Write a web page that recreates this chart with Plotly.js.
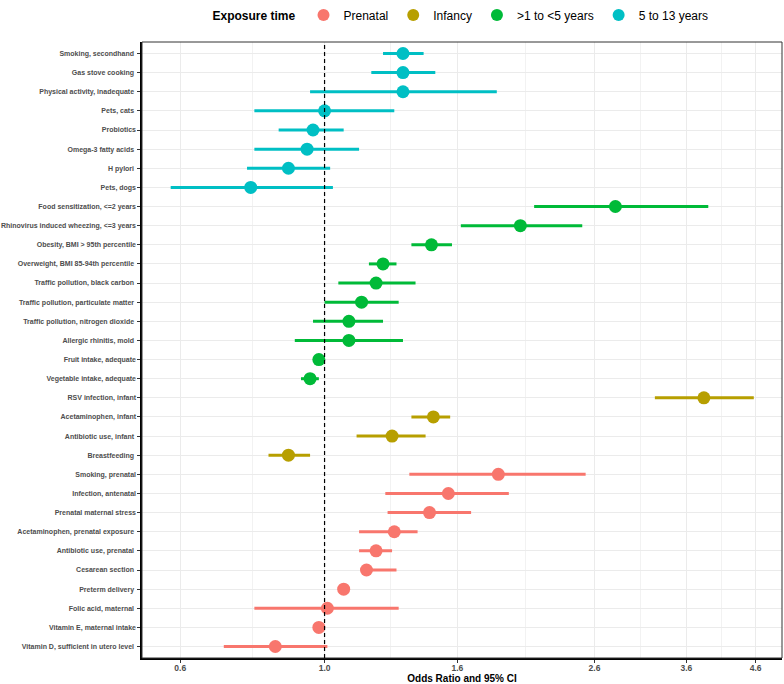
<!DOCTYPE html>
<html>
<head>
<meta charset="utf-8">
<script src="https://cdn.plot.ly/plotly-3.0.1.min.js"></script>
<style>
  body { margin: 0; background: #fff; }
  #chart { width: 784px; height: 684px; }
</style>
</head>
<body>
<div id="chart"></div>
<script>
// risk factors, top to bottom
const factors = [
  "Smoking, secondhand\u00a0", "Gas stove cooking\u00a0", "Physical activity, inadequate\u00a0",
  "Pets, cats\u00a0", "Probiotics", "Omega-3 fatty acids\u00a0", "H pylori\u00a0", "Pets, dogs",
  "Food sensitization, <=2 years", "Rhinovirus induced wheezing, <=3 years",
  "Obesity, BMI > 95th percentile", "Overweight, BMI 85-94th percentile\u00a0",
  "Traffic pollution, black carbon\u00a0", "Traffic pollution, particulate matter\u00a0",
  "Traffic pollution, nitrogen dioxide\u00a0", "Allergic rhinitis, mold\u00a0",
  "Fruit intake, adequate", "Vegetable intake, adequate",
  "RSV infection, infant", "Acetaminophen, infant", "Antibiotic use, infant\u00a0", "Breastfeeding\u00a0",
  "Smoking, prenatal", "Infection, antenatal", "Prenatal maternal stress",
  "Acetaminophen, prenatal exposure\u00a0", "Antibiotic use, prenatal\u00a0", "Cesarean section\u00a0",
  "Preterm delivery\u00a0", "Folic acid, maternal\u00a0", "Vitamin E, maternal intake",
  "Vitamin D, sufficient in utero level\u00a0"
];

const exposure = [
  "5 to 13 years", "5 to 13 years", "5 to 13 years", "5 to 13 years",
  "5 to 13 years", "5 to 13 years", "5 to 13 years", "5 to 13 years",
  ">1 to <5 years", ">1 to <5 years", ">1 to <5 years", ">1 to <5 years", ">1 to <5 years",
  ">1 to <5 years", ">1 to <5 years", ">1 to <5 years", ">1 to <5 years", ">1 to <5 years",
  "Infancy", "Infancy", "Infancy", "Infancy",
  "Prenatal", "Prenatal", "Prenatal", "Prenatal", "Prenatal",
  "Prenatal", "Prenatal", "Prenatal", "Prenatal", "Prenatal"
];

const oddsRatio = [
  1.32, 1.32, 1.32, 1.00, 0.96, 0.94, 0.88, 0.77,
  2.80, 2.00, 1.46, 1.23, 1.20, 1.14, 1.09, 1.09, 0.98, 0.95,
  3.83, 1.47, 1.27, 0.88,
  1.85, 1.55, 1.45, 1.28, 1.20, 1.16, 1.07, 1.01, 0.98, 0.84
];

const ciLow = [
  1.23, 1.18, 0.95, 0.78, 0.85, 0.78, 0.76, 0.58,
  2.10, 1.62, 1.36, 1.17, 1.05, 1.00, 0.96, 0.90, 0.965, 0.92,
  3.22, 1.36, 1.12, 0.82,
  1.35, 1.24, 1.25, 1.13, 1.13, 1.14, 1.06, 0.78, 0.97, 0.70
];

const ciHigh = [
  1.42, 1.48, 1.84, 1.28, 1.07, 1.13, 1.02, 1.03,
  3.89, 2.49, 1.57, 1.29, 1.38, 1.30, 1.23, 1.32, 0.99, 0.98,
  4.57, 1.56, 1.43, 0.95,
  2.52, 1.92, 1.68, 1.39, 1.27, 1.29, 1.09, 1.30, 0.99, 1.01
];

const groups = ["Prenatal", "Infancy", ">1 to <5 years", "5 to 13 years"];
const groupColors = ["#F8766D", "#B79F00", "#00BA38", "#00BFC4"];

const xTicks = [0.6, 1.0, 1.6, 2.6, 3.6, 4.6];
// ggplot-style minor grid: halfway between majors on the log scale
const xMinor = [];
for (let i = 0; i < xTicks.length - 1; i++) {
  xMinor.push(Math.sqrt(xTicks[i] * xTicks[i + 1]));
}

const data = groups.map(function (g, gi) {
  const idx = [];
  exposure.forEach(function (e, i) { if (e === g) idx.push(i); });
  return {
    type: 'scatter',
    mode: 'markers',
    name: g,
    x: idx.map(i => oddsRatio[i]),
    y: idx.map(i => factors[i]),
    marker: {color: groupColors[gi], size: 13},
    error_x: {
      type: 'data',
      symmetric: false,
      array: idx.map(i => ciHigh[i] - oddsRatio[i]),
      arrayminus: idx.map(i => oddsRatio[i] - ciLow[i]),
      color: groupColors[gi],
      thickness: 3,
      width: 0
    },
    hoverinfo: 'x+y'
  };
});

const layout = {
  width: 784,
  height: 684,
  margin: {l: 142, r: 2, t: 41, b: 26},
  paper_bgcolor: '#fff',
  plot_bgcolor: '#fff',
  font: {family: 'Liberation Sans, Arial, sans-serif', color: '#000'},
  showlegend: true,
  legend: {
    orientation: 'h',
    x: 0.5, xanchor: 'center',
    y: 1.042, yanchor: 'middle',
    itemsizing: 'constant',
    font: {size: 12, color: '#000'},
    title: {
      text: '<span style="baseline-shift:-4px">Exposure time</span>',
      side: 'left',
      font: {size: 12, weight: 'bold'}
    },
    traceorder: 'normal'
  },
  xaxis: {
    type: 'log',
    range: [Math.log10(0.524), Math.log10(5.05)],
    tickvals: xTicks,
    ticktext: xTicks.map(v => v.toFixed(1)),
    tickfont: {size: 8.5, color: '#4D4D4D', weight: 'bold'},
    ticks: 'outside', ticklen: 3, tickcolor: '#333', tickwidth: 1,
    ticklabelstandoff: -2,
    showgrid: true, gridcolor: '#EBEBEB', gridwidth: 1,
    minor: {tickvals: xMinor, showgrid: true, gridcolor: '#F2F2F2', gridwidth: 1, ticks: ''},
    showline: true, linecolor: '#000', linewidth: 1.6,
    zeroline: false,
    automargin: false,
    title: {text: 'Odds Ratio and 95% CI', font: {size: 10, weight: 'bold', color: '#000'}}
  },
  yaxis: {
    type: 'category',
    categoryorder: 'array',
    categoryarray: factors.slice().reverse(),
    range: [-0.6, factors.length - 0.4],
    tickfont: {size: 7, color: '#4D4D4D', weight: 'bold'},
    ticks: 'outside', ticklen: 3, tickcolor: '#333', tickwidth: 1,
    showgrid: true, gridcolor: '#EBEBEB', gridwidth: 1,
    showline: true, linecolor: '#000', linewidth: 1.6,
    zeroline: false,
    automargin: false
  },
  shapes: [
    {type: 'rect', xref: 'paper', yref: 'paper', x0: 0, x1: 1, y0: 0, y1: 1,
     line: {color: '#333333', width: 1}, fillcolor: 'rgba(0,0,0,0)'},
    {type: 'line', xref: 'x', yref: 'paper', x0: 1, x1: 1, y0: 0, y1: 1,
     line: {color: '#000', width: 1.2, dash: '4px,3px'}}
  ]
};

Plotly.newPlot('chart', data, layout, {displayModeBar: false, staticPlot: true});
</script>
</body>
</html>
